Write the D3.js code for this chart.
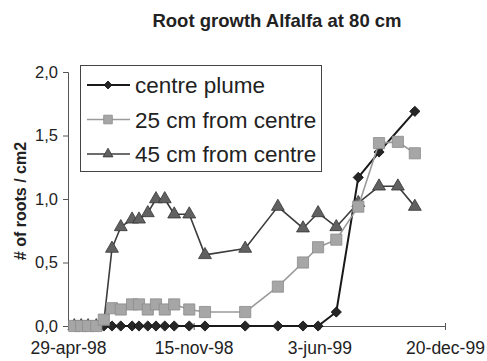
<!DOCTYPE html>
<html>
<head>
<meta charset="utf-8">
<script src="https://cdn.jsdelivr.net/npm/d3@7"></script>
<style>
  html, body { margin: 0; padding: 0; background: #fff; }
  svg { display: block; font-family: Arial, "Liberation Sans", Helvetica, sans-serif; }
</style>
</head>
<body>
<svg id="chart" width="487" height="361"></svg>
<script>
// Sampling dates and root counts per series
const sampleDates = ["1998-05-09","1998-05-20","1998-05-31","1998-06-13","1998-06-25",
  "1998-07-08","1998-07-22","1998-08-09","1998-08-20","1998-09-03","1998-09-16","1998-09-30",
  "1998-10-15","1998-11-08","1998-12-03","1999-02-05","1999-03-29","1999-05-08","1999-06-01",
  "1999-06-30","1999-08-04","1999-09-06","1999-10-06","1999-11-02"];

const centrePlume = [0,0,0,0,0, 0,0,0,0,0,0,0,0,0,0, 0,0,0,0, 0.11,1.17,1.37,null,1.69];
const cm25 = [0,0,0,0,0.05, 0.14,0.13,0.17,0.17,0.13,0.17,0.13,0.17,0.13,0.11, 0.11,0.31,0.50,0.62,0.68,0.94,1.44,1.45,1.36];
const cm45 = [0,0,0,0,0.03, 0.61,0.78,0.84,0.84,0.89,1.00,1.00,0.88,0.88,0.56, 0.61,0.94,0.77,0.89,0.78,0.97,1.10,1.10,0.94];

const seriesNames = ["centre plume", "25 cm from centre", "45 cm from centre"];
const xTickLabels = ["29-apr-98", "15-nov-98", "3-jun-99", "20-dec-99"];
const yTicks = [0, 0.5, 1.0, 1.5, 2.0];

(function () {
  const parseIso = d3.timeParse("%Y-%m-%d");
  const parseTick = d3.timeParse("%d-%b-%y");
  const dates = sampleDates.map(parseIso);
  const tickDates = xTickLabels.map(s => parseTick(s.replace(/-([a-z])/, (m, c) => "-" + c.toUpperCase())));

  const svg = d3.select("#chart");
  const plotLeft = 68, plotRight = 445, plotTop = 72, plotBottom = 326;

  const x = d3.scaleTime().domain([tickDates[0], tickDates[tickDates.length - 1]]).range([plotLeft, plotRight]);
  const y = d3.scaleLinear().domain([0, 2]).range([plotBottom, plotTop]);

  const locale = d3.formatLocale({decimal: ",", thousands: ".", grouping: [3], currency: ["", ""]});
  const fmt = locale.format(".1f");

  // Title
  svg.append("text")
    .attr("x", 277).attr("y", 27)
    .attr("text-anchor", "middle")
    .attr("font-weight", "bold").attr("font-size", 18.5)
    .attr("fill", "#222")
    .text("Root growth Alfalfa at 80 cm");

  // Y axis
  const yAxis = svg.append("g").attr("transform", `translate(${plotLeft},0)`)
    .call(d3.axisLeft(y).tickValues(yTicks).tickFormat(fmt).tickSizeOuter(0).tickSize(5).tickPadding(5));
  yAxis.select(".domain").attr("stroke", "#555");
  yAxis.selectAll(".tick line").attr("stroke", "#555");
  yAxis.selectAll("text").attr("font-size", 16.5).attr("fill", "#222").attr("font-family", "Arial, 'Liberation Sans', sans-serif");

  // X axis
  const xAxis = svg.append("g").attr("transform", `translate(0,${plotBottom})`)
    .call(d3.axisBottom(x).tickValues(tickDates).tickFormat((d, i) => xTickLabels[i]).tickSizeOuter(0).tickSize(4).tickPadding(12));
  xAxis.select(".domain").attr("stroke", "#555");
  xAxis.selectAll(".tick line").attr("stroke", "#555").attr("y1", -3);
  xAxis.selectAll("text").attr("font-size", 17.5).attr("fill", "#222").attr("font-family", "Arial, 'Liberation Sans', sans-serif");

  // Y axis title
  svg.append("text")
    .attr("transform", `translate(26,${(plotTop + plotBottom) / 2 + 2}) rotate(-90)`)
    .attr("text-anchor", "middle")
    .attr("font-weight", "bold").attr("font-size", 16)
    .attr("fill", "#222")
    .text("# of roots / cm2");

  // Diamond drawn as a square turned 45 degrees
  const series = [
    {name: seriesNames[0], values: centrePlume, line: "#1a1a1a", width: 2, fill: "#262626", stroke: "#111", shape: d3.symbolSquare, rot: 45, size: 52},
    {name: seriesNames[1], values: cm25, line: "#9a9a9a", width: 1.6, fill: "#a6a6a6", stroke: "#8c8c8c", shape: d3.symbolSquare, rot: 0, size: 125},
    {name: seriesNames[2], values: cm45, line: "#3c3c3c", width: 1.6, fill: "#616161", stroke: "#353535", shape: d3.symbolTriangle, rot: 0, size: 72}
  ];

  const drawOrder = [0, 2, 1];
  drawOrder.forEach(si => {
    const s = series[si];
    const pts = dates.map((d, i) => ({d, v: s.values[i]})).filter(p => p.v !== null);
    const line = d3.line().x(p => x(p.d)).y(p => y(p.v));
    const g = svg.append("g");
    g.append("path").datum(pts).attr("d", line)
      .attr("fill", "none").attr("stroke", s.line).attr("stroke-width", s.width).attr("stroke-linejoin", "round");
    g.selectAll("path.m").data(pts).join("path").attr("class", "m")
      .attr("transform", p => `translate(${x(p.d)},${y(p.v)}) rotate(${s.rot})`)
      .attr("d", d3.symbol().type(s.shape).size(s.size))
      .attr("fill", s.fill).attr("stroke", s.stroke).attr("stroke-width", 0.8);
  });

  // Legend
  const lg = svg.append("g");
  lg.append("rect").attr("x", 80.5).attr("y", 65.5).attr("width", 241).attr("height", 106)
    .attr("fill", "#fff").attr("stroke", "#444").attr("stroke-width", 1);
  series.forEach((s, i) => {
    const cy = 85 + i * 34.5;
    lg.append("line").attr("x1", 87).attr("x2", 130).attr("y1", cy).attr("y2", cy)
      .attr("stroke", s.line).attr("stroke-width", s.width);
    lg.append("path").attr("transform", `translate(108,${cy}) rotate(${s.rot})`)
      .attr("d", d3.symbol().type(s.shape).size(s.size * 0.6))
      .attr("fill", s.fill).attr("stroke", s.stroke).attr("stroke-width", 0.8);
    lg.append("text").attr("x", 135).attr("y", cy + 8)
      .attr("font-size", 22.5).attr("fill", "#222")
      .text(s.name);
  });
})();
</script>
</body>
</html>
